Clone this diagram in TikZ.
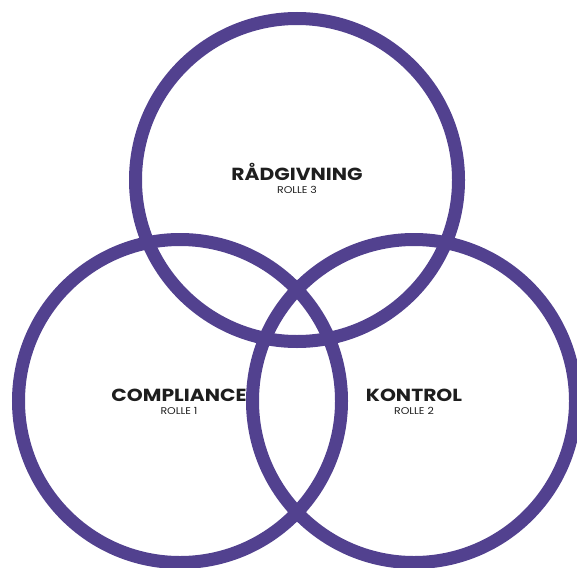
\documentclass[tikz,border=0pt]{standalone}
\usepackage{fontspec}
\setmainfont{Poppins}
\newfontfamily\titelfont[FakeStretch=1.16]{Poppins}
\newfontfamily\rollefont[FakeStretch=1.12]{Poppins}
\definecolor{rollelilla}{HTML}{52418F}
\definecolor{tekst}{HTML}{1E1E1E}
\begin{document}
\begin{tikzpicture}[x=1pt, y=-1pt,
    ring/.style={draw=rollelilla, line width=13pt},
    titel/.style={font=\titelfont\fontsize{17.5}{19}\selectfont\bfseries, text=tekst, inner sep=0pt, anchor=base},
    rolle/.style={font=\rollefont\fontsize{9.8}{11}\selectfont, text=tekst, inner sep=0pt, anchor=base}]
    \useasboundingbox (0,0) rectangle (577,567);
    
    \coordinate (raad) at (297,180);
    \coordinate (comp) at (180,401);
    \coordinate (kont) at (414,401);
    
    \draw[ring] (raad) circle (161.5);
    \draw[ring] (comp) circle (161.5);
    \draw[ring] (kont) circle (161.5);
    
    \node[titel] (raadtitel) at (297,180) {RÅDGIVNING};
    \node[rolle] (raadrolle) at (297,193) {ROLLE 3};
    
    \node[titel] (comptitel) at (179,401) {COMPLIANCE};
    \node[rolle] (comprolle) at (179,414) {ROLLE 1};
    
    \node[titel] (konttitel) at (414,401) {KONTROL};
    \node[rolle] (kontrolle) at (414,414) {ROLLE 2};
    
\end{tikzpicture}
\end{document}
